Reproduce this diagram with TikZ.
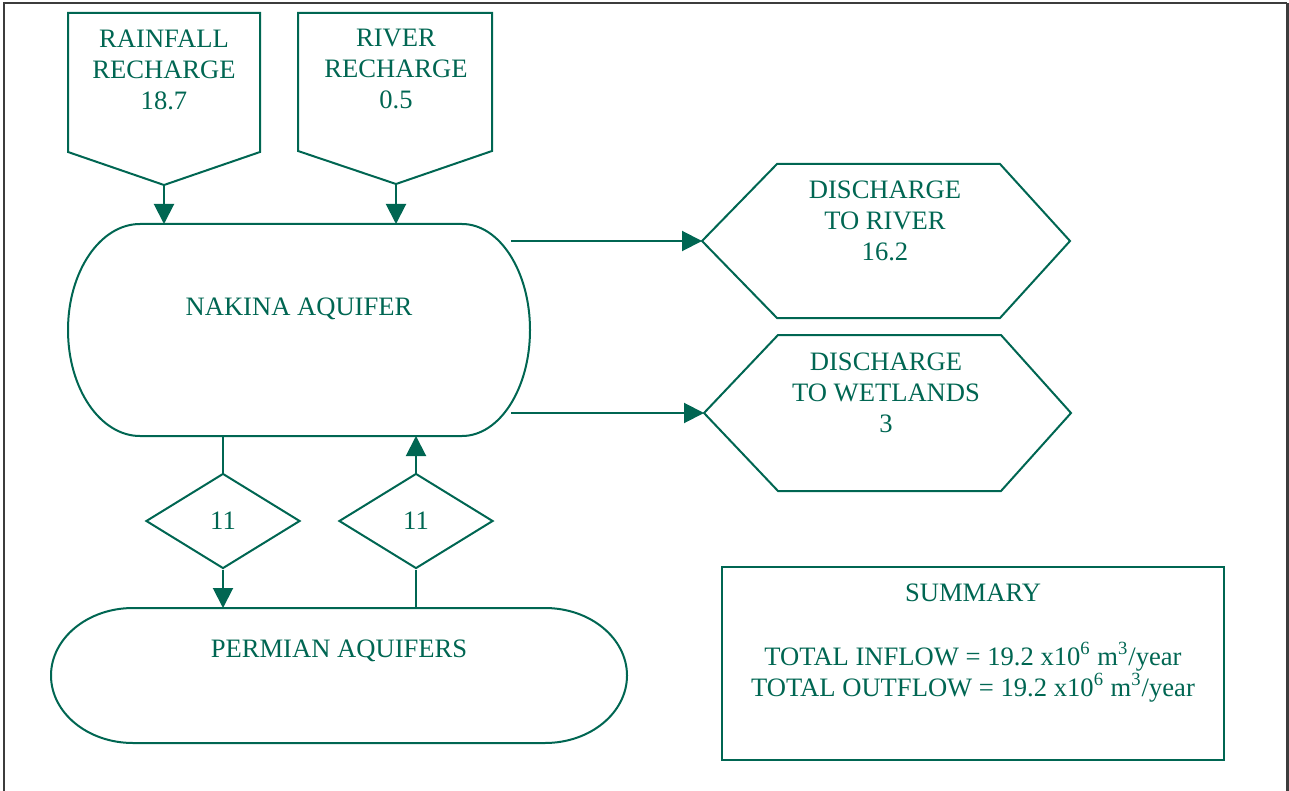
\documentclass[tikz,border=0pt]{standalone}
\usepackage{fontspec}
\setmainfont{Liberation Serif}
\usepackage{tikz}
\usetikzlibrary{arrows.meta,shapes.geometric}

\definecolor{aqgreen}{RGB}{0,102,82}
\definecolor{framegray}{RGB}{60,60,60}

\tikzset{
  line/.style={draw=aqgreen, line width=1pt},
  flow/.style={line, -{Triangle[width=10pt,length=10pt]}},
  frame/.style={draw=framegray, line width=0.8pt},
  txt/.style={text=aqgreen, font=\fontsize{13.3}{15.5}\selectfont, align=center, inner sep=0pt},
  hole/.style={inner sep=0pt, outer sep=0pt},
  valve/.style={diamond, line, minimum width=77pt, minimum height=47.5pt, inner sep=0pt, txt}
}

\begin{document}
\begin{tikzpicture}[x=0.5pt,y=0.5pt]
\useasboundingbox (0,0) rectangle (1289,-791);
\draw[frame] (4,-791) -- (4,-3) -- (1287,-3);
\draw[frame, line width=1.5pt] (1287,-3) -- (1287,-791);

\coordinate (raintip) at (164,-185);
\coordinate (rivtip) at (396,-184);
\draw[line] (68,-13) -- (260,-13) -- (260,-152) -- (raintip) -- (68,-152) -- cycle;
\draw[line] (298,-13) -- (492,-13) -- (492,-151) -- (rivtip) -- (298,-151) -- cycle;
\node[txt] (rain) at (164,-70) {RAINFALL\\RECHARGE\\18.7};
\node[txt] (rivin) at (396,-69) {RIVER\\RECHARGE\\0.5};

\node[hole, minimum width=231pt, minimum height=106pt] (nakina) at (299,-330) {};
\draw[line] (140,-224) -- (462,-224) arc[start angle=90, end angle=-90, x radius=68, y radius=106]
  -- (140,-436) arc[start angle=270, end angle=90, x radius=72, y radius=106] -- cycle;
\node[txt] (nakinatxt) at (299,-309) {NAKINA AQUIFER};

\node[hole, minimum width=288pt, minimum height=67.5pt] (permian) at (339,-675.5) {};
\draw[line] (133,-608) -- (545,-608) arc[start angle=90, end angle=-90, x radius=82, y radius=67.5]
  -- (133,-743) arc[start angle=270, end angle=90, x radius=82, y radius=67.5] -- cycle;
\node[txt] (permiantxt) at (339,-651) {PERMIAN AQUIFERS};

\coordinate (rivout) at (702,-241);
\coordinate (wetout) at (704,-413);
\draw[line] (rivout) -- (777,-164) -- (1000,-164) -- (1070,-241) -- (1000,-318) -- (777,-318) -- cycle;
\draw[line] (wetout) -- (778,-335) -- (1001,-335) -- (1071,-413) -- (1001,-491) -- (778,-491) -- cycle;
\node[txt] (rivdis) at (885,-221) {DISCHARGE\\TO RIVER\\16.2};
\node[txt] (wetdis) at (886,-393) {DISCHARGE\\TO WETLANDS\\3};

\node[valve] (down) at (223,-521) {11};
\node[valve] (up) at (416,-521) {11};

\coordinate (nak1) at (511,-241);
\coordinate (nak2) at (511,-413);

\draw[flow] (raintip) -- (raintip |- nakina.north);
\draw[flow] (rivtip) -- (rivtip |- nakina.north);
\draw[flow] (nak1) -- (rivout);
\draw[flow] (nak2) -- (wetout);
\draw[line] (down.north |- nakina.south) -- (down.north);
\draw[flow] (down.south) -- (down.south |- permian.north);
\draw[line] (up.south |- permian.north) -- (up.south);
\draw[flow] (up.north) -- (up.north |- nakina.south);

\node[hole, line, minimum width=251pt, minimum height=96.5pt] (summary) at (973,-663.5) {};
\node[txt] (sumtitle) at (973,-593) {SUMMARY};
\node[txt] (totals) at (973,-672) {TOTAL INFLOW = 19.2 x10\textsuperscript{6} m\textsuperscript{3}/year\\
  TOTAL OUTFLOW = 19.2 x10\textsuperscript{6} m\textsuperscript{3}/year};
\end{tikzpicture}
\end{document}
